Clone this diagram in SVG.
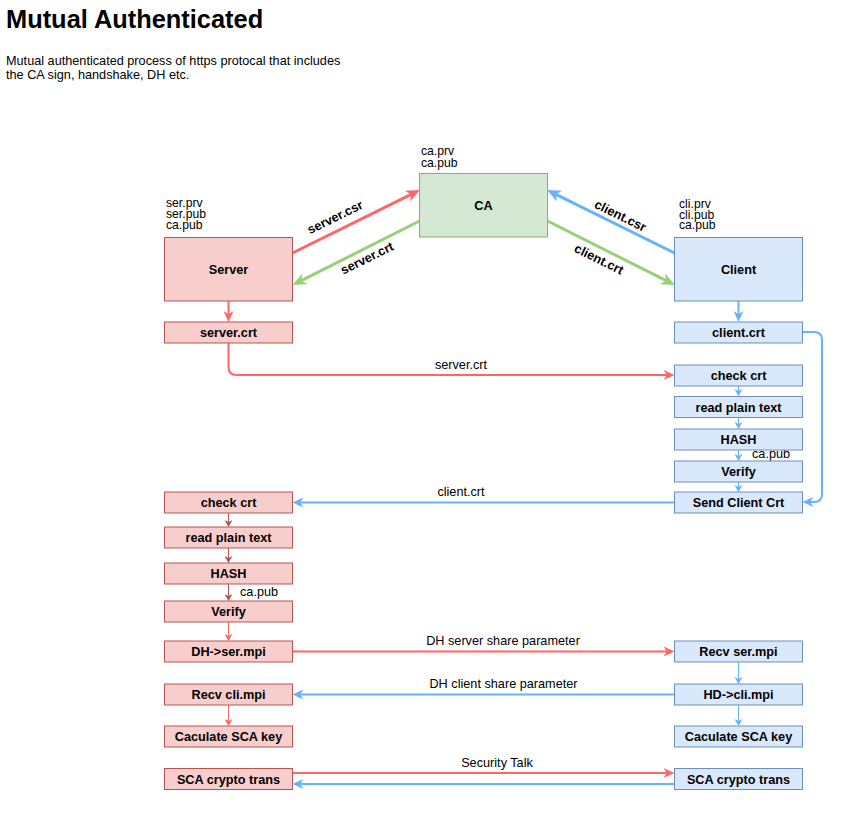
<svg xmlns="http://www.w3.org/2000/svg" width="866" height="816" viewBox="0 0 866 816">
<style>
text{font-family:"Liberation Sans",Arial,sans-serif;font-size:12.7px;fill:#000}
.k{font-size:12.2px}
.b{font-weight:bold;text-anchor:middle}
.m{text-anchor:middle}
.title{font-size:25.4px;font-weight:bold}
.srv{fill:#f8cecc;stroke:#b85450;stroke-width:1}
.ca{fill:#d5e8d4;stroke:#82b366;stroke-width:1}
.cli{fill:#dae8fc;stroke:#6c8ebf;stroke-width:1}
.e{fill:none}
.red{stroke:#ff6666}
.grn{stroke:#97d077}
.blu{stroke:#66b2ff}
.drk{stroke:#b85450}
.w3{stroke-width:3}
.w2{stroke-width:2}
.w1{stroke-width:1}
</style>
<defs>
<marker id="aRedL" viewBox="0 0 10 10" refX="5" refY="5" markerUnits="userSpaceOnUse" markerWidth="14" markerHeight="12" preserveAspectRatio="none" orient="auto"><path d="M0,0 L10,5 L0,10 L3,5 Z" fill="#ff6666"/></marker>
<marker id="aGrnL" viewBox="0 0 10 10" refX="5" refY="5" markerUnits="userSpaceOnUse" markerWidth="14" markerHeight="12" preserveAspectRatio="none" orient="auto"><path d="M0,0 L10,5 L0,10 L3,5 Z" fill="#97d077"/></marker>
<marker id="aBluL" viewBox="0 0 10 10" refX="5" refY="5" markerUnits="userSpaceOnUse" markerWidth="14" markerHeight="12" preserveAspectRatio="none" orient="auto"><path d="M0,0 L10,5 L0,10 L3,5 Z" fill="#66b2ff"/></marker>
<marker id="aRedM" viewBox="0 0 10 10" refX="5" refY="5" markerUnits="userSpaceOnUse" markerWidth="11" markerHeight="10" preserveAspectRatio="none" orient="auto"><path d="M0,0 L10,5 L0,10 L3,5 Z" fill="#ff6666"/></marker>
<marker id="aBluM" viewBox="0 0 10 10" refX="5" refY="5" markerUnits="userSpaceOnUse" markerWidth="11" markerHeight="10" preserveAspectRatio="none" orient="auto"><path d="M0,0 L10,5 L0,10 L3,5 Z" fill="#66b2ff"/></marker>
<marker id="aRedS" viewBox="0 0 10 10" refX="5" refY="5" markerUnits="userSpaceOnUse" markerWidth="7" markerHeight="8" preserveAspectRatio="none" orient="auto"><path d="M0,0 L10,5 L0,10 L3,5 Z" fill="#ff6666"/></marker>
<marker id="aBluS" viewBox="0 0 10 10" refX="5" refY="5" markerUnits="userSpaceOnUse" markerWidth="7" markerHeight="8" preserveAspectRatio="none" orient="auto"><path d="M0,0 L10,5 L0,10 L3,5 Z" fill="#66b2ff"/></marker>
<marker id="aDrkS" viewBox="0 0 10 10" refX="5" refY="5" markerUnits="userSpaceOnUse" markerWidth="7" markerHeight="8" preserveAspectRatio="none" orient="auto"><path d="M0,0 L10,5 L0,10 L3,5 Z" fill="#b85450"/></marker>
</defs>
<rect width="866" height="816" fill="#ffffff"/>
<text x="6" y="28" class="title">Mutual Authenticated</text>
<text x="6" y="64.5">Mutual authenticated process of https protocal that includes</text>
<text x="6" y="78.5">the CA sign, handshake, DH etc.</text>

<g id="connectors">
<path class="e red w3" d="M292.5,253 L413.7,193.1" marker-end="url(#aRedL)"/>
<path class="e grn w3" d="M419.5,221 L298.8,281.9" marker-end="url(#aGrnL)"/>
<path class="e blu w3" d="M674.5,253 L553.3,193.1" marker-end="url(#aBluL)"/>
<path class="e grn w3" d="M547.5,221 L668.7,281.9" marker-end="url(#aGrnL)"/>
<path class="e red w2" d="M228.5,301 L228.5,316.5" marker-end="url(#aRedM)"/>
<path class="e blu w2" d="M738.5,301 L738.5,316.5" marker-end="url(#aBluM)"/>
<path class="e red w2" d="M228.5,343 L228.5,367 Q228.5,375 236.5,375 L669,375" marker-end="url(#aRedM)"/>
<path class="e blu w2" d="M802.5,332 L814,332 Q822,332 822,340 L822,494 Q822,502 814,502 L808,502" marker-end="url(#aBluM)"/>
<path class="e blu w2" d="M674.5,502.5 L298,502.5" marker-end="url(#aBluM)"/>
<path class="e blu w1" d="M738.5,386 L738.5,392.5" marker-end="url(#aBluS)"/>
<path class="e blu w1" d="M738.5,418 L738.5,425.5" marker-end="url(#aBluS)"/>
<path class="e blu w1" d="M738.5,450 L738.5,457.5" marker-end="url(#aBluS)"/>
<path class="e blu w1" d="M738.5,482 L738.5,488.5" marker-end="url(#aBluS)"/>
<path class="e drk w1" d="M228.5,513 L228.5,523.5" marker-end="url(#aDrkS)"/>
<path class="e drk w1" d="M228.5,548 L228.5,559.5" marker-end="url(#aDrkS)"/>
<path class="e drk w1" d="M228.5,584 L228.5,597.5" marker-end="url(#aDrkS)"/>
<path class="e red w1" d="M228.5,622 L228.5,637.5" marker-end="url(#aRedS)"/>
<path class="e red w2" d="M292.5,651.5 L669,651.5" marker-end="url(#aRedM)"/>
<path class="e blu w1" d="M738.5,662 L738.5,680.5" marker-end="url(#aBluS)"/>
<path class="e blu w2" d="M674.5,694.5 L298,694.5" marker-end="url(#aBluM)"/>
<path class="e red w1" d="M228.5,705 L228.5,722.5" marker-end="url(#aRedS)"/>
<path class="e blu w1" d="M738.5,705 L738.5,722.5" marker-end="url(#aBluS)"/>
<path class="e red w2" d="M292.5,773 L669,773" marker-end="url(#aRedM)"/>
<path class="e blu w2" d="M674.5,784 L298,784" marker-end="url(#aBluM)"/>
<text class="b" transform="translate(335,217) rotate(-26.3)" y="4.5">server.csr</text>
<text class="b" transform="translate(367,258) rotate(-26.3)" y="4.5">server.crt</text>
<text class="b" transform="translate(620.5,215.5) rotate(26.3)" y="4.5">client.csr</text>
<text class="b" transform="translate(599,259) rotate(26.3)" y="4.5">client.crt</text>
<text class="m" x="461" y="369">server.crt</text>
<text class="m" x="461" y="496">client.crt</text>
<text class="m" x="503" y="645">DH server share parameter</text>
<text class="m" x="503.5" y="688">DH client share parameter</text>
<text class="m" x="497" y="767">Security Talk</text>
<text x="752" y="457.5">ca.pub</text>
<text x="240" y="596">ca.pub</text>
</g>

<g id="ca-keys"><text class="k" x="421" y="155">ca.prv</text><text class="k" x="421" y="167">ca.pub</text></g>
<g id="ser-keys"><text class="k" x="166" y="207">ser.prv</text><text class="k" x="166" y="218">ser.pub</text><text class="k" x="166" y="229">ca.pub</text></g>
<g id="cli-keys"><text class="k" x="679" y="208">cli.prv</text><text class="k" x="679" y="219">cli.pub</text><text class="k" x="679" y="229">ca.pub</text></g>

<g id="ca"><rect class="ca" x="419.5" y="173.5" width="128" height="63.5"/><text class="b" x="483.5" y="210">CA</text></g>
<g id="server"><rect class="srv" x="164.5" y="237.5" width="128" height="63.5"/><text class="b" x="228.5" y="274">Server</text></g>
<g id="client"><rect class="cli" x="674.5" y="237.5" width="128" height="63.5"/><text class="b" x="738.5" y="274">Client</text></g>

<g id="l-server-crt"><rect class="srv" x="164.5" y="322" width="128" height="21"/><text class="b" x="228.5" y="337">server.crt</text></g>
<g id="l-check-crt"><rect class="srv" x="164.5" y="492" width="128" height="21"/><text class="b" x="228.5" y="507">check crt</text></g>
<g id="l-read"><rect class="srv" x="164.5" y="527" width="128" height="21"/><text class="b" x="228.5" y="542">read plain text</text></g>
<g id="l-hash"><rect class="srv" x="164.5" y="563" width="128" height="21"/><text class="b" x="228.5" y="578">HASH</text></g>
<g id="l-verify"><rect class="srv" x="164.5" y="601" width="128" height="21"/><text class="b" x="228.5" y="616">Verify</text></g>
<g id="l-dh"><rect class="srv" x="164.5" y="641" width="128" height="21"/><text class="b" x="228.5" y="656">DH-&gt;ser.mpi</text></g>
<g id="l-recv"><rect class="srv" x="164.5" y="684" width="128" height="21"/><text class="b" x="228.5" y="699">Recv cli.mpi</text></g>
<g id="l-calc"><rect class="srv" x="164.5" y="726" width="128" height="21"/><text class="b" x="228.5" y="741">Caculate SCA key</text></g>
<g id="l-sca"><rect class="srv" x="164.5" y="768.5" width="128" height="21"/><text class="b" x="228.5" y="783.5">SCA crypto trans</text></g>

<g id="r-client-crt"><rect class="cli" x="674.5" y="322" width="128" height="21"/><text class="b" x="738.5" y="337">client.crt</text></g>
<g id="r-check-crt"><rect class="cli" x="674.5" y="365" width="128" height="21"/><text class="b" x="738.5" y="380">check crt</text></g>
<g id="r-read"><rect class="cli" x="674.5" y="396.5" width="128" height="21"/><text class="b" x="738.5" y="411.5">read plain text</text></g>
<g id="r-hash"><rect class="cli" x="674.5" y="429" width="128" height="21"/><text class="b" x="738.5" y="444">HASH</text></g>
<g id="r-verify"><rect class="cli" x="674.5" y="461" width="128" height="21"/><text class="b" x="738.5" y="476">Verify</text></g>
<g id="r-send"><rect class="cli" x="674.5" y="492" width="128" height="21"/><text class="b" x="738.5" y="507">Send Client Crt</text></g>
<g id="r-recv"><rect class="cli" x="674.5" y="641" width="128" height="21"/><text class="b" x="738.5" y="656">Recv ser.mpi</text></g>
<g id="r-hd"><rect class="cli" x="674.5" y="684" width="128" height="21"/><text class="b" x="738.5" y="699">HD-&gt;cli.mpi</text></g>
<g id="r-calc"><rect class="cli" x="674.5" y="726" width="128" height="21"/><text class="b" x="738.5" y="741">Caculate SCA key</text></g>
<g id="r-sca"><rect class="cli" x="674.5" y="768.5" width="128" height="21"/><text class="b" x="738.5" y="783.5">SCA crypto trans</text></g>
</svg>
